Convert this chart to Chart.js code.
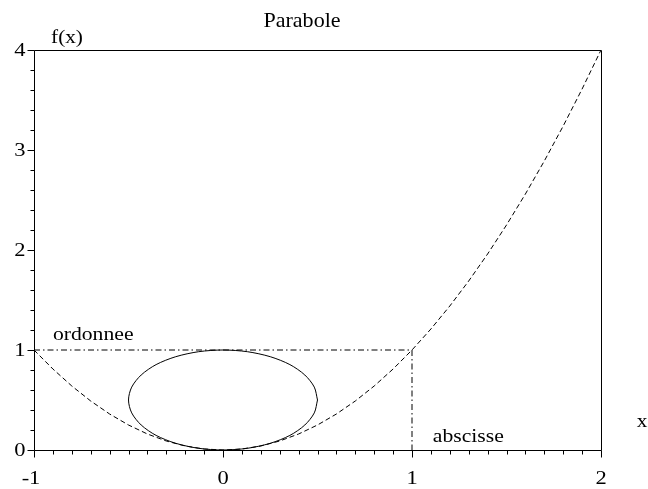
<!DOCTYPE html>
<html>
<head>
<meta charset="utf-8">
<script src="https://cdn.jsdelivr.net/npm/chart.js@4/dist/chart.umd.min.js"></script>
<style>
html,body{margin:0;padding:0;background:#fff;}
#wrap{width:648px;height:489px;}
</style>
</head>
<body>
<div id="wrap"><canvas id="c" width="648" height="489"></canvas></div>
<script>
// Parabola points (dashed curve)
const parabolaX = [-1,-0.9,-0.8,-0.7,-0.6,-0.5,-0.4,-0.3,-0.2,-0.1,0,0.1,0.2,0.3,0.4,0.5,0.6,0.7,0.8,0.9,1,1.1,1.2,1.3,1.4,1.5,1.6,1.7,1.8,1.9,2];
const parabolaY = [1,0.81,0.64,0.49,0.36,0.25,0.16,0.09,0.04,0.01,0,0.01,0.04,0.09,0.16,0.25,0.36,0.49,0.64,0.81,1,1.21,1.44,1.69,1.96,2.25,2.56,2.89,3.24,3.61,4];
// Ellipse points (solid closed curve)
const ellipseX = [0.5,0.483,0.433,0.354,0.25,0.129,0,-0.129,-0.25,-0.354,-0.433,-0.483,-0.5,-0.483,-0.433,-0.354,-0.25,-0.129,0,0.129,0.25,0.354,0.433,0.483,0.5];
const ellipseY = [0.5,0.629,0.75,0.854,0.933,0.983,1,0.983,0.933,0.854,0.75,0.629,0.5,0.371,0.25,0.146,0.067,0.017,0,0.017,0.067,0.146,0.25,0.371,0.5];
// Dash-dot guide lines
const guideX = [-1,1,1];
const guideY = [1,1,0];
// Ticks and labels
const xTickValues = [-1,0,1,2];
const xTickLabels = ['-1','0','1','2'];
const yTickValues = [0,1,2,3,4];
const yTickLabels = ['0','1','2','3','4'];
const titleText = 'Parabole';
const xAxisName = 'x';
const yAxisName = 'f(x)';
const annotations = [
  {text:'ordonnee', x:-0.9, y:1.1},
  {text:'abscisse', x:1.11, y:0.08}
];

const toPts = (xs, ys) => xs.map((x,i)=>({x:x, y:ys[i]}));
const FONT = '"Liberation Serif","Times New Roman",serif';

function txt(ctx, s, x, y, align, base, size, sx){
  ctx.save();
  ctx.font = size + 'px ' + FONT;
  ctx.fillStyle = '#000';
  ctx.textBaseline = base;
  ctx.translate(x, y);
  ctx.scale(sx, 1);
  ctx.textAlign = align;
  ctx.fillText(s, 0, 0);
  ctx.restore();
}

const framePlugin = {
  id: 'frame',
  afterDraw(chart){
    const ctx = chart.ctx;
    const xs = chart.scales.x, ys = chart.scales.y;
    const L = Math.round(xs.getPixelForValue(-1)) + 0.5;
    const R = Math.round(xs.getPixelForValue(2)) + 0.5;
    const B = Math.round(ys.getPixelForValue(0)) + 0.5;
    const T = Math.round(ys.getPixelForValue(4)) + 0.5;
    ctx.save();
    ctx.strokeStyle = '#000';
    ctx.lineWidth = 1;
    ctx.setLineDash([]);
    ctx.beginPath();
    ctx.moveTo(L, T); ctx.lineTo(R, T); ctx.lineTo(R, B); ctx.lineTo(L, B); ctx.closePath();
    ctx.stroke();
    // x ticks
    ctx.beginPath();
    for (let i = 0; i <= 30; i++) {
      const v = -1 + i * 0.1;
      const px = Math.round(xs.getPixelForValue(v)) + 0.5;
      const len = (i % 10 === 0) ? 7 : 4;
      ctx.moveTo(px, B); ctx.lineTo(px, B + len);
    }
    // y ticks
    for (let i = 0; i <= 20; i++) {
      const v = i * 0.2;
      const py = Math.round(ys.getPixelForValue(v)) + 0.5;
      const len = (i % 5 === 0) ? 7 : 4;
      ctx.moveTo(L, py); ctx.lineTo(L - len, py);
    }
    ctx.stroke();
    ctx.restore();
    // tick labels
    xTickValues.forEach((v,i)=>{
      const px = xs.getPixelForValue(v) - (xTickLabels[i].startsWith('-') ? 3 : 0);
      txt(ctx, xTickLabels[i], px, B + 33, 'center', 'alphabetic', 18, 1.25);
    });
    yTickValues.forEach((v,i)=>{
      const py = ys.getPixelForValue(v);
      txt(ctx, yTickLabels[i], L - 9, py + 6, 'right', 'alphabetic', 18, 1.25);
    });
    // title and axis names
    txt(ctx, titleText, 302, 27, 'center', 'alphabetic', 21, 1.05);
    txt(ctx, yAxisName, 67, 43, 'center', 'alphabetic', 19, 1.12);
    txt(ctx, xAxisName, 642, 427, 'center', 'alphabetic', 19, 1.12);
    annotations.forEach(a=>{
      txt(ctx, a.text, xs.getPixelForValue(a.x), ys.getPixelForValue(a.y), 'left', 'alphabetic', 19, 1.14);
    });
  }
};

new Chart(document.getElementById('c'), {
  type: 'scatter',
  data: {
    datasets: [
      {data: toPts(parabolaX, parabolaY), showLine: true, borderColor: '#000', borderWidth: 1, borderDash: [5,3], pointRadius: 0, fill: false, tension: 0},
      {data: toPts(ellipseX, ellipseY), showLine: true, borderColor: '#000', borderWidth: 1, pointRadius: 0, fill: false, tension: 0.3},
      {data: toPts(guideX, guideY), showLine: true, borderColor: '#000', borderWidth: 1, borderDash: [6,3,1.5,3], pointRadius: 0, fill: false, tension: 0}
    ]
  },
  options: {
    responsive: false,
    animation: false,
    events: [],
    layout: {padding: {left: 34, right: 47, top: 50, bottom: 39}},
    plugins: {legend: {display: false}, title: {display: false}, tooltip: {enabled: false}},
    scales: {
      x: {type: 'linear', min: -1, max: 2, display: false},
      y: {type: 'linear', min: 0, max: 4, display: false}
    }
  },
  plugins: [framePlugin]
});
</script>
</body>
</html>
